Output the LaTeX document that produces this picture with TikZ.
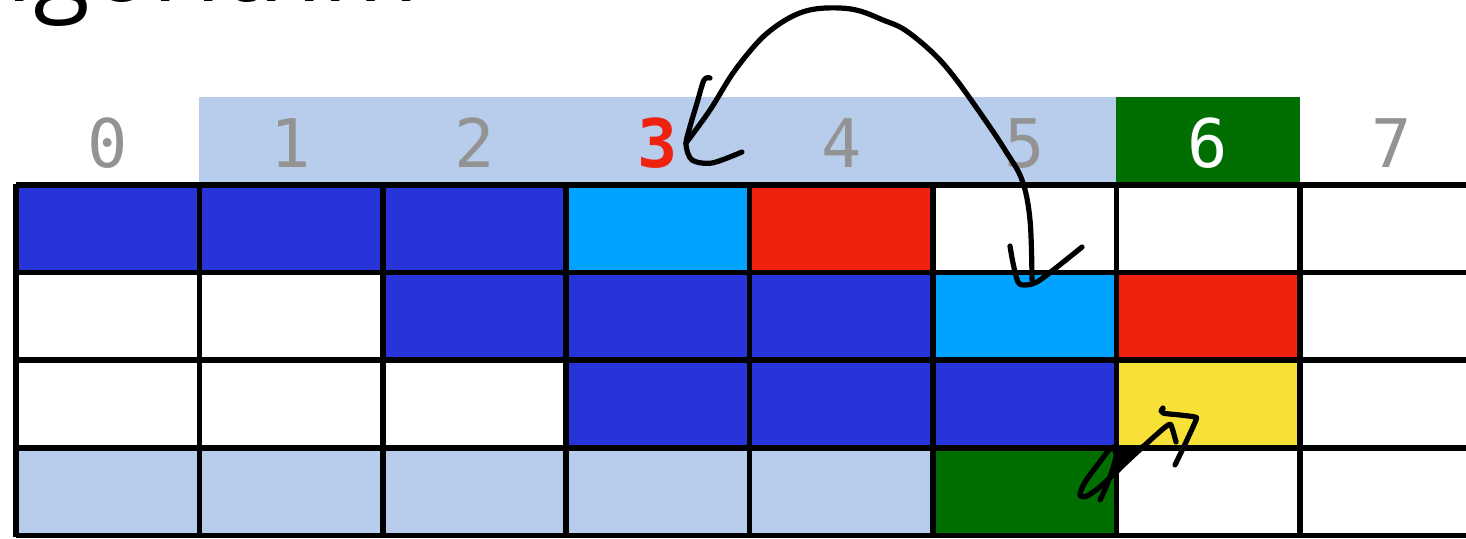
\documentclass[tikz,border=0pt]{standalone}
\usepackage{fontspec}
\newfontfamily\monof{DejaVu Sans Mono}
\newfontfamily\titlef{Open Sans}
\definecolor{cblue}{HTML}{2634D8}
\definecolor{ccyan}{HTML}{00A3FF}
\definecolor{cred}{HTML}{EE220F}
\definecolor{cyellow}{HTML}{F8E136}
\definecolor{cgreen}{HTML}{006E00}
\definecolor{clight}{HTML}{B8CDEB}
\definecolor{cgray}{HTML}{939393}
\tikzset{
  gridline/.style={line width=2.8pt, black},
  ink/.style={line width=2.6pt, black, line cap=round, line join=round},
  idx/.style={font=\monof\fontsize{33.5}{36}\selectfont, text=cgray, anchor=base, inner sep=0pt},
  titletext/.style={font=\titlef\fontsize{52}{58}\selectfont, anchor=base east, inner sep=0pt, outer sep=0pt},
}
\begin{document}
\begin{tikzpicture}[x=0.5pt,y=-0.5pt]
\useasboundingbox (0,0) rectangle (1466,538);
\clip (0,0) rectangle (1466,538);
\fill[white] (0,0) rectangle (1466,538);
% title fragment
\node[titletext] (title) at (419,1) {algorithm};
\node[titletext] (comma) at (1344,-18) {,};
% header band
\fill[clight] (199,97) rectangle (1116,185);
\fill[cgreen] (1116,97) rectangle (1299.6,185);
% column borders
\def\xs{{16,199.4,382.8,566.2,749.6,933,1116.4,1299.8,1483.2}}
\def\ys{{185,272.6,360.2,447.8,535.5}}
% cells: row, col, color
\foreach \r/\c/\col in {0/0/cblue,0/1/cblue,0/2/cblue,0/3/ccyan,0/4/cred,
  1/2/cblue,1/3/cblue,1/4/cblue,1/5/ccyan,1/6/cred,
  2/3/cblue,2/4/cblue,2/5/cblue,2/6/cyellow,
  3/0/clight,3/1/clight,3/2/clight,3/3/clight,3/4/clight,3/5/cgreen}{
  \pgfmathsetmacro{\xa}{\xs[\c]}
  \pgfmathsetmacro{\xb}{\xs[\c+1]}
  \pgfmathsetmacro{\ya}{\ys[\r]}
  \pgfmathsetmacro{\yb}{\ys[\r+1]}
  \fill[\col] (\xa,\ya) rectangle (\xb,\yb);
}
% grid
\foreach \y in {185,272.6,360.2,447.8,535.5}{
  \draw[gridline] (16,\y) -- (1470,\y);
}
\foreach \x in {16,199.4,382.8,566.2,749.6,933,1116.4,1299.8}{
  \draw[gridline] (\x,183.6) -- (\x,536.9);
}
% index labels
\node[idx] (i0) at (107.7,167) {0};
\node[idx] (i1) at (291.1,167) {1};
\node[idx] (i2) at (474.5,167) {2};
\node[idx, text=cred, font=\monof\bfseries\fontsize{33.5}{36}\selectfont] (i3) at (657.9,167) {3};
\node[idx] (i4) at (841.3,167) {4};
\node[idx] (i5) at (1024.7,167) {5};
\node[idx, text=white] (i6) at (1208.1,167) {6};
\node[idx] (i7) at (1391.5,167) {7};
% hand-drawn arc arrow
\draw[ink] plot[smooth, tension=0.6] coordinates {(1032,280) (1030,220) (1022,180) (1005,150) (983,117) (955,78) (933,53) (905,30) (883,20) (860,11) (840,8) (815,9) (795,15) (775,27) (757,43) (733,73) (710,110) (686,143)};
\draw[ink] plot[smooth, tension=0.5] coordinates {(710,78) (704,80) (697,103) (689,130) (686,145) (692,160) (712,163) (742,152)};
\draw[ink] plot[smooth, tension=0.5] coordinates {(1010,246) (1013,263) (1018,282) (1025,285) (1040,280) (1082,247)};
% small scribbled arrow
\fill[black] (1112,449) -- (1146,444) -- (1118,474) -- cycle;
\draw[ink] plot[smooth, tension=0.5] coordinates {(1100,500) (1106,487) (1113,468) (1117,450) (1111,448) (1099,463) (1085,482) (1080,495) (1087,496) (1101,486) (1120,468) (1146,444) (1168,425) (1172,428) (1176,442)};
\draw[ink] plot[smooth, tension=0.4] coordinates {(1161,411) (1163,408) (1163,413) (1180,415) (1195,417) (1196,420) (1186,442) (1175,465)};
\end{tikzpicture}
\end{document}
